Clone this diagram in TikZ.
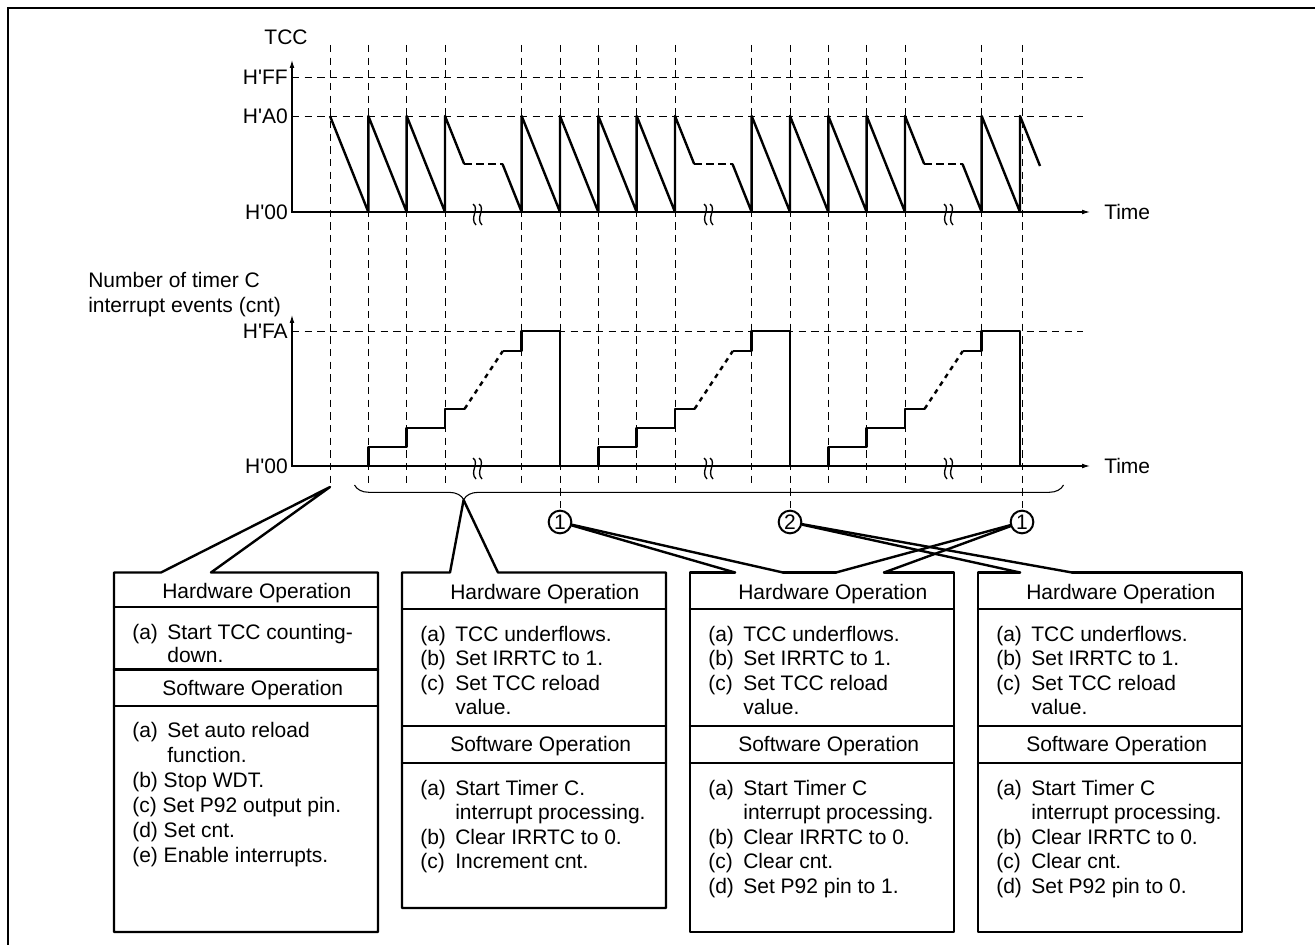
\documentclass[tikz,border=0pt]{standalone}
\usepackage{fontspec}
\setmainfont{Liberation Sans}[Ligatures=TeXOff]
\usetikzlibrary{arrows.meta,decorations.pathreplacing}
\newcommand\ilab[1]{\makebox[26.3pt][l]{#1}}
\newcommand\icont{\hspace*{26.3pt}}
\begin{document}
\begin{tikzpicture}[x=0.75pt,y=-0.75pt,
  font=\fontsize{15.75pt}{18.4pt}\selectfont,
  >={Latex[length=6pt,width=3.6pt]},
  sig/.style={line width=1.8pt,line join=round},
  gridl/.style={line width=0.65pt,dash pattern=on 5.5pt off 4pt},
  axisl/.style={line width=0.8pt},
  boxl/.style={line width=1.8pt,line join=round,line cap=round},
  txt/.style={inner sep=0pt,anchor=base west},
  lab/.style={inner sep=0pt,anchor=east},
  circ/.style={circle,draw,line width=1.5pt,minimum size=17pt,inner sep=0pt},
  brk/.pic={\draw[line width=1pt] (-6,-8) .. controls (1,-3) and (-10,6) .. (-3,13);
            \draw[line width=1pt] (0,-8) .. controls (7,-3) and (-4,6) .. (3,13);}
]
\useasboundingbox (0,0) rectangle (1315,945);
% frame
\draw[line width=1.5pt] (8,945) -- (8,8) -- (1315,8);

% coordinates and circles
\coordinate (a0) at (330,487);
\coordinate (bt) at (463.6,500);
\node[circ] (c1) at (560,522) {1};
\node[circ] (c2) at (790,522) {2};
\node[circ] (c3) at (1022,522) {1};

% vertical grid
\foreach \k in {1,2,3,5,7,8,9,11,13,14,15,17}
  \draw[gridl] ({330+38.3333*\k},45) -- ({330+38.3333*\k},486);
\draw[gridl] (330,45) -- (a0);
\draw[gridl] (560,45) -- (c1.north);
\draw[gridl] (790,45) -- (c2.north);
\draw[gridl] (1022,45) -- (c3.north);

% horizontal grid
\draw[gridl] (292,77) -- (1083,77);
\draw[gridl] (292,116) -- (1083,116);
\draw[gridl] (292,331) -- (1083,331);

% axes
\draw[axisl,<->] (292,60) -- (292,212) -- (1090,212);
\draw[axisl,<->] (292,315) -- (292,466) -- (1090,466);

% labels
\node[inner sep=0pt] (tcc) at (286,37) {TCC};
\node[lab] (hff) at (288,77) {H'FF};
\node[lab] (ha0) at (288,116) {H'A0};
\node[lab] (h00a) at (288,212) {H'00};
\node[inner sep=0pt,anchor=west] (time1) at (1104,212) {Time};
\node[txt] (num1) at (88,287) {Number of timer C};
\node[txt] (num2) at (88,312) {interrupt events (cnt)};
\node[lab] (hfa) at (288,331) {H'FA};
\node[lab] (h00b) at (288,466) {H'00};
\node[inner sep=0pt,anchor=west] (time2) at (1104,466) {Time};

% breaks
\foreach \x in {479,710,950} {
  \pic at (\x,212) {brk};
  \pic at (\x,466) {brk};
}

% TCC sawtooth
\draw[sig] (330,116) -- (368.33,212) -- (368.33,116) -- (406.67,212) -- (406.67,116) -- (445,212) -- (445,116) -- (464.2,164);
\draw[sig,dash pattern=on 6pt off 3pt] (464.2,164) -- (502.5,164);
\draw[sig] (502.5,164) -- (521.67,212) -- (521.67,116) -- (560,212) -- (560,116) -- (598.33,212) -- (598.33,116) -- (636.67,212) -- (636.67,116) -- (675,212) -- (675,116) -- (694.2,164);
\draw[sig,dash pattern=on 6pt off 3pt] (694.2,164) -- (732.5,164);
\draw[sig] (732.5,164) -- (751.67,212) -- (751.67,116) -- (790,212) -- (790,116) -- (828.33,212) -- (828.33,116) -- (866.67,212) -- (866.67,116) -- (905,212) -- (905,116) -- (924.2,164);
\draw[sig,dash pattern=on 6pt off 3pt] (924.2,164) -- (962.5,164);
\draw[sig] (962.5,164) -- (981.67,212) -- (981.67,116) -- (1020,212) -- (1020,116) -- (1040,166);

% cnt staircase
\draw[sig] (368.33,466) -- (368.33,447) -- (406.67,447) -- (406.67,428) -- (445,428) -- (445,409) -- (464.5,409);
\draw[sig,dash pattern=on 3.5pt off 3.5pt] (464.5,409) -- (502.8,351);
\draw[sig] (502.8,351) -- (521.67,351) -- (521.67,331) -- (560,331) -- (560,466) -- (598.33,466) -- (598.33,447) -- (636.67,447) -- (636.67,428) -- (675,428) -- (675,409) -- (694.5,409);
\draw[sig,dash pattern=on 3.5pt off 3.5pt] (694.5,409) -- (732.8,351);
\draw[sig] (732.8,351) -- (751.67,351) -- (751.67,331) -- (790,331) -- (790,466) -- (828.33,466) -- (828.33,447) -- (866.67,447) -- (866.67,428) -- (905,428) -- (905,409) -- (924.5,409);
\draw[sig,dash pattern=on 3.5pt off 3.5pt] (924.5,409) -- (962.8,351);
\draw[sig] (962.8,351) -- (981.67,351) -- (981.67,331) -- (1020,331) -- (1020,466);

% brace
\draw[line width=0.8pt,decorate,decoration={brace,mirror,amplitude=11pt,aspect=0.154}] (354.5,485) -- (1063.5,485);

% ---------- Box 1
\coordinate (b1a) at (161,572.5);
\coordinate (b1b) at (211,572.5);
\draw[boxl] (114,572.5) -- (b1a) -- (a0) -- (b1b) -- (378,572.5) -- (378,932) -- (114,932) -- cycle;
\draw[boxl] (114,607) -- (378,607);
\draw[boxl] (114,669.3) -- (378,669.3);
\draw[boxl] (114,706) -- (378,706);
\node[txt] (p1hh) at (162,598) {Hardware Operation};
\node[txt] (p1h1) at (132,639) {\ilab{(a)}Start TCC counting-};
\node[txt] (p1h2) at (132,662.5) {\icont down.};
\node[txt] (p1sh) at (162,695) {Software Operation};
\node[txt] (p1s1) at (132,737) {\ilab{(a)}Set auto reload};
\node[txt] (p1s2) at (132,762) {\icont function.};
\node[txt] (p1s3) at (132,787) {(b) Stop WDT.};
\node[txt] (p1s4) at (132,812) {(c) Set P92 output pin.};
\node[txt] (p1s5) at (132,837) {(d) Set cnt.};
\node[txt] (p1s6) at (132,862) {(e) Enable interrupts.};

% common parts of boxes 2-4
\newcommand\hwpart[3]{%
  \draw[boxl] (#1,609) -- (#1+264,609);
  \draw[boxl] (#1,726) -- (#1+264,726);
  \draw[boxl] (#1,762.7) -- (#1+264,762.7);
  \node[txt] (#2hh) at (#1+48,599.5) {Hardware Operation};
  \node[txt] (#2h1) at (#1+18,641) {\ilab{(a)}TCC underflows.};
  \node[txt] (#2h2) at (#1+18,665.5) {\ilab{(b)}Set IRRTC to 1.};
  \node[txt] (#2h3) at (#1+18,690) {\ilab{(c)}Set TCC reload};
  \node[txt] (#2h4) at (#1+18,714.5) {\icont value.};
  \node[txt] (#2sh) at (#1+48,751.5) {Software Operation};
  \node[txt] (#2s1) at (#1+18,795) {\ilab{(a)}Start Timer C#3};
  \node[txt] (#2s2) at (#1+18,819.5) {\icont interrupt processing.};
  \node[txt] (#2s3) at (#1+18,844) {\ilab{(b)}Clear IRRTC to 0.};
}

% ---------- Box 2
\coordinate (b2a) at (450,572.5);
\coordinate (b2b) at (498,572.5);
\draw[boxl] (402,572.5) -- (b2a) -- (bt) -- (b2b) -- (666,572.5) -- (666,908) -- (402,908) -- cycle;
\hwpart{402}{p2}{.}
\node[txt] (p2s4) at (420,868.5) {\ilab{(c)}Increment cnt.};

% ---------- Box 3
\coordinate (b3a) at (735,572.5);
\coordinate (b3b) at (783,572.5);
\coordinate (b3c) at (836,572.5);
\coordinate (b3d) at (884,572.5);
\draw[boxl] (b3a) -- (690,572.5) -- (690,932) -- (954,932) -- (954,572.5) -- (b3d);
\draw[boxl] (b3b) -- (b3c);
\draw[boxl] (c1) -- (b3a);
\draw[boxl] (c1) -- (b3b);
\draw[boxl] (c3) -- (b3c);
\draw[boxl] (c3) -- (b3d);
\hwpart{690}{p3}{}
\node[txt] (p3s4) at (708,868.5) {\ilab{(c)}Clear cnt.};
\node[txt] (p3s5) at (708,893) {\ilab{(d)}Set P92 pin to 1.};

% ---------- Box 4
\coordinate (b4a) at (1020,572.5);
\coordinate (b4b) at (1072,572.5);
\draw[boxl] (b4a) -- (978,572.5) -- (978,932) -- (1242,932) -- (1242,572.5) -- (b4b);
\draw[boxl] (c2) -- (b4a);
\draw[boxl] (c2) -- (b4b);
\hwpart{978}{p4}{}
\node[txt] (p4s4) at (996,868.5) {\ilab{(c)}Clear cnt.};
\node[txt] (p4s5) at (996,893) {\ilab{(d)}Set P92 pin to 0.};
\end{tikzpicture}
\end{document}
